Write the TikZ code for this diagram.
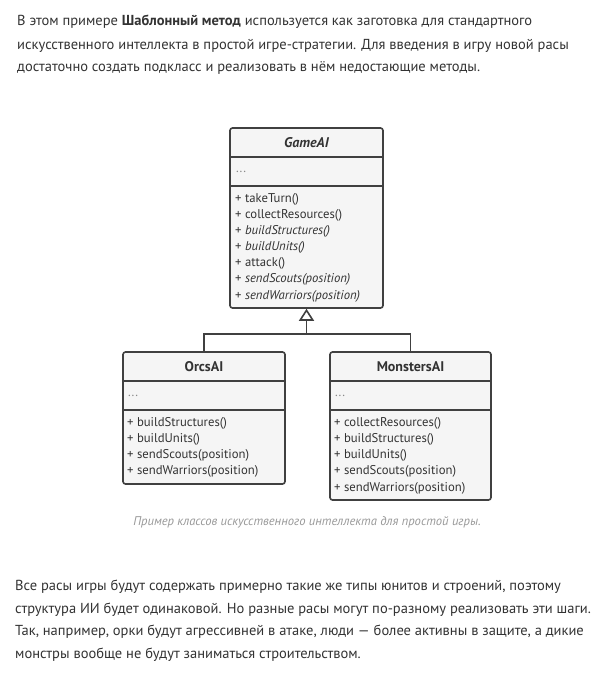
\documentclass[tikz,border=0pt]{standalone}
\usepackage{fontspec}
\setmainfont{PT Sans}
\usetikzlibrary{arrows.meta}
\definecolor{txt}{HTML}{333333}
\definecolor{boxfill}{HTML}{F5F5F5}
\definecolor{boxline}{HTML}{404040}
\definecolor{capt}{HTML}{999999}
\definecolor{dots}{HTML}{888888}
\tikzset{
  para/.style={anchor=west, inner sep=0pt, text=txt, font=\fontsize{14.5}{17}\selectfont},
  umlbox/.style={draw=boxline, fill=boxfill, line width=1.6pt, rounded corners=2.5pt, inner sep=0pt},
  sep/.style={draw=boxline, line width=1.6pt},
  hdr/.style={inner sep=0pt, text=txt, font=\fontsize{14}{16}\bfseries\selectfont},
  mth/.style={anchor=west, inner sep=0pt, text=txt, font=\fontsize{12.7}{14}\selectfont},
  conn/.style={draw=boxline, line width=1.6pt},
}
\begin{document}
\begin{tikzpicture}[x=1pt,y=-1pt]
\useasboundingbox (0,0) rectangle (610,675);
\fill[white] (0,0) rectangle (610,675);
% top paragraph
\node[para] (p1) at (17,22) {В этом примере \textbf{Шаблонный метод} используется как заготовка для стандартного};
\node[para] (p2) at (17,45.5) {искусственного интеллекта в простой игре-стратегии. Для введения в игру новой расы};
\node[para] (p3) at (17,68) {достаточно создать подкласс и реализовать в нём недостающие методы.};
% GameAI
\node[umlbox, minimum width=153pt, minimum height=180pt] (game) at (306.5,218) {};
\draw[sep] (230,157) -- (383,157);
\draw[sep] (230,186) -- (383,186);
\node[hdr, font=\fontsize{14}{16}\bfseries\itshape\selectfont] (gname) at (306.5,142.5) {GameAI};
\node[mth, text=dots] (gattr) at (236,172) {...};
\node[mth] (g1) at (235,199) {+ takeTurn()};
\node[mth] (g2) at (235,215) {+ collectResources()};
\node[mth] (g3) at (235,231) {+ \textit{buildStructures()}};
\node[mth] (g4) at (235,247) {+ \textit{buildUnits()}};
\node[mth] (g5) at (235,263) {+ attack()};
\node[mth] (g6) at (235,279.5) {+ \textit{sendScouts(position)}};
\node[mth] (g7) at (235,296) {+ \textit{sendWarriors(position)}};
% OrcsAI
\node[umlbox, minimum width=162pt, minimum height=132pt] (orcs) at (204,418) {};
\draw[sep] (123,381) -- (285,381);
\draw[sep] (123,410) -- (285,410);
\node[hdr] (oname) at (204,367) {OrcsAI};
\node[mth, text=dots] (oattr) at (128,396) {...};
\node[mth] (o1) at (127,423) {+ buildStructures()};
\node[mth] (o2) at (127,439) {+ buildUnits()};
\node[mth] (o3) at (127,455) {+ sendScouts(position)};
\node[mth] (o4) at (127,471) {+ sendWarriors(position)};
% MonstersAI
\node[umlbox, minimum width=161pt, minimum height=148pt] (mons) at (410.5,426) {};
\draw[sep] (330,381) -- (491,381);
\draw[sep] (330,410) -- (491,410);
\node[hdr] (mname) at (410.5,367) {MonstersAI};
\node[mth, text=dots] (mattr) at (335,396) {...};
\node[mth] (m1) at (334,423) {+ collectResources()};
\node[mth] (m2) at (334,439) {+ buildStructures()};
\node[mth] (m3) at (334,455) {+ buildUnits()};
\node[mth] (m4) at (334,471) {+ sendScouts(position)};
\node[mth] (m5) at (334,488) {+ sendWarriors(position)};
% inheritance
\coordinate (jn) at (306.5,334);
\draw[conn] (orcs.north) |- (jn) -| (mons.north);
\draw[conn, -{Triangle[open, length=12pt, width=15pt, line width=1.6pt]}] (jn) -- (game.south);
% caption
\node[inner sep=0pt, text=capt, font=\fontsize{12.6}{14}\itshape\selectfont] (cap) at (307,522) {Пример классов искусственного интеллекта для простой игры.};
% bottom paragraph
\node[para] (b1) at (15,587) {Все расы игры будут содержать примерно такие же типы юнитов и строений, поэтому};
\node[para] (b2) at (15,609.5) {структура ИИ будет одинаковой. Но разные расы могут по-разному реализовать эти шаги.};
\node[para] (b3) at (15,632) {Так, например, орки будут агрессивней в атаке, люди — более активны в защите, а дикие};
\node[para] (b4) at (15,654.5) {монстры вообще не будут заниматься строительством.};
\end{tikzpicture}
\end{document}
